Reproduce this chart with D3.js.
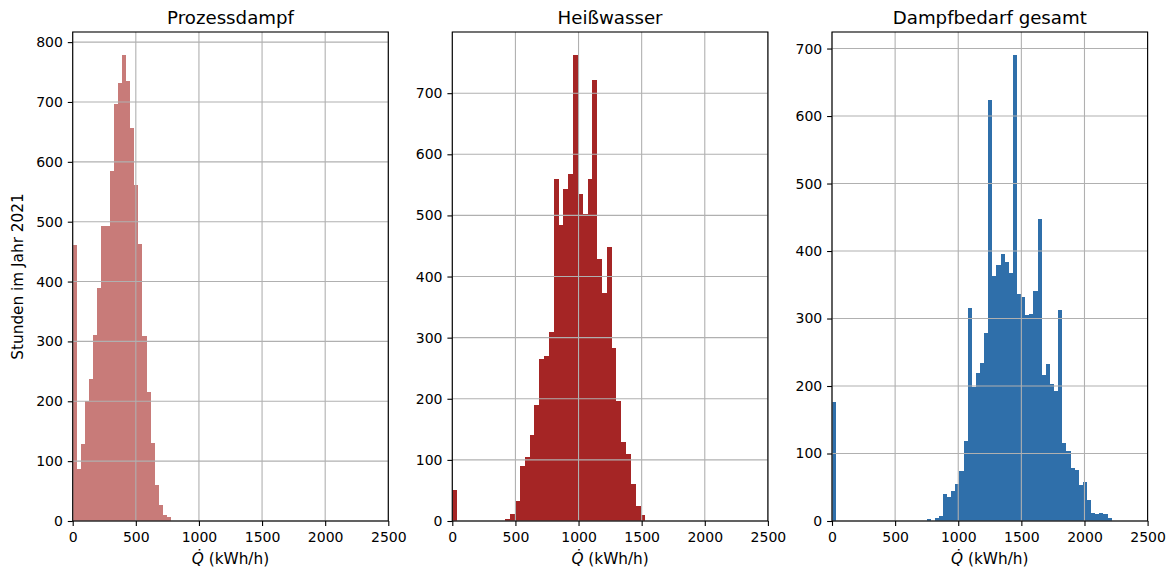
<!DOCTYPE html>
<html>
<head>
<meta charset="utf-8">
<script src="https://cdn.jsdelivr.net/npm/d3@7"></script>
<style>
  html, body { margin: 0; padding: 0; background: #fff; }
  svg { display: block; font-family: "DejaVu Sans", sans-serif; }
</style>
</head>
<body>
<svg id="chart" width="1176" height="576"></svg>
<script>
// ---------------- data ----------------
const titles = ["Prozessdampf", "Heißwasser", "Dampfbedarf gesamt"];
const xTicks = [0, 500, 1000, 1500, 2000, 2500];
const xDomain = [0, 2500];
const yLabel = "Stunden im Jahr 2021";

// Prozessdampf: 24 equal bins between 0 and 780 kWh/h
const prozessRange = [0, 780];
const prozessCounts = [461, 87, 128, 200, 238, 310, 390, 493, 493, 585, 696, 731,
                       778, 735, 657, 561, 462, 309, 216, 131, 60, 26, 10, 6];
const prozessTicks = [0, 100, 200, 300, 400, 500, 600, 700, 800];

// Heißwasser: 40 equal bins between 0 and 1530 kWh/h
const heissRange = [0, 1530];
const heissCounts = [51, 0, 0, 0, 0, 0, 0, 0, 0, 0,
                     0, 4, 12, 33, 90, 104, 140, 190, 265, 270,
                     309, 560, 484, 543, 568, 762, 535, 502, 560, 721,
                     429, 373, 448, 283, 196, 129, 110, 60, 25, 10];
const heissTicks = [0, 100, 200, 300, 400, 500, 600, 700];

// Dampfbedarf gesamt: 68 equal bins between 0 and 2215 kWh/h
const gesamtRange = [0, 2215];
const gesamtCounts = [176, 0, 0, 0, 0, 0, 0, 0, 0, 0,
                      0, 0, 0, 0, 0, 0, 0, 0, 0, 0,
                      0, 0, 0, 3, 0, 5, 7, 40, 36, 45,
                      55, 74, 119, 315, 199, 220, 234, 278, 624, 363,
                      380, 395, 384, 368, 690, 336, 332, 305, 306, 341,
                      447, 216, 233, 203, 192, 312, 115, 103, 79, 76,
                      54, 58, 31, 12, 10, 12, 10, 5];
const gesamtTicks = [0, 100, 200, 300, 400, 500, 600, 700];

const colors = ["#c87b79", "#a52525", "#2f6faa"];

// ---------------- layout ----------------
const panelLeft = [72.7, 452.3, 832];
const panelW = 315.6;
const plotTop = 32, plotBottom = 521;
const tickLen = 4.9, tickPad = 4.9;
const fs = 14;
const labelFs = 15.3;
const titleFs = 18.2;

const panels = [
  { title: titles[0], range: prozessRange, counts: prozessCounts, yTicks: prozessTicks, color: colors[0] },
  { title: titles[1], range: heissRange,   counts: heissCounts,   yTicks: heissTicks,   color: colors[1] },
  { title: titles[2], range: gesamtRange,  counts: gesamtCounts,  yTicks: gesamtTicks,  color: colors[2] }
];

const svg = d3.select("#chart");

panels.forEach((p, pi) => {
  const left = panelLeft[pi];
  const x = d3.scaleLinear().domain(xDomain).range([left, left + panelW]);
  const yMax = d3.max(p.counts) * 1.05;
  const y = d3.scaleLinear().domain([0, yMax]).range([plotBottom, plotTop]);

  const n = p.counts.length;
  const bw = (p.range[1] - p.range[0]) / n;
  const bins = p.counts.map((c, i) => ({ x0: p.range[0] + i * bw, x1: p.range[0] + (i + 1) * bw, c }));

  const g = svg.append("g");

  // bars
  g.append("g").attr("shape-rendering", "crispEdges")
    .selectAll("rect").data(bins.filter(b => b.c > 0)).join("rect")
    .attr("x", b => x(b.x0))
    .attr("width", b => x(b.x1) - x(b.x0))
    .attr("y", b => y(b.c))
    .attr("height", b => y(0) - y(b.c))
    .attr("fill", p.color);

  // grid (drawn above bars like matplotlib)
  const grid = g.append("g").attr("stroke", "#b0b0b0").attr("stroke-width", 1.1);
  xTicks.forEach(t => grid.append("line")
    .attr("x1", x(t)).attr("x2", x(t)).attr("y1", plotTop).attr("y2", plotBottom));
  p.yTicks.forEach(t => grid.append("line")
    .attr("x1", left).attr("x2", left + panelW).attr("y1", y(t)).attr("y2", y(t)));

  // axes
  const xAxis = d3.axisBottom(x).tickValues(xTicks).tickFormat(d3.format("d"))
    .tickSize(tickLen).tickPadding(tickPad + 1).tickSizeOuter(0);
  const yAxis = d3.axisLeft(y).tickValues(p.yTicks).tickFormat(d3.format("d"))
    .tickSize(tickLen).tickPadding(tickPad).tickSizeOuter(0);

  const gx = g.append("g").attr("transform", `translate(0,${plotBottom})`).call(xAxis);
  const gy = g.append("g").attr("transform", `translate(${left},0)`).call(yAxis);
  [gx, gy].forEach(a => {
    a.select(".domain").remove();
    a.selectAll(".tick line").attr("stroke", "#000").attr("stroke-width", 1.1);
    a.selectAll(".tick text").attr("fill", "#000").style("font-size", fs + "px")
      .style("font-family", "DejaVu Sans, sans-serif");
  });

  // spines
  g.append("rect")
    .attr("x", left).attr("y", plotTop).attr("width", panelW).attr("height", plotBottom - plotTop)
    .attr("fill", "none").attr("stroke", "#000").attr("stroke-width", 1.1);

  // title
  g.append("text")
    .attr("x", left + panelW / 2).attr("y", 24)
    .attr("text-anchor", "middle").style("font-size", titleFs + "px").attr("fill", "#000")
    .text(p.title);

  // x label: Q-dot (kWh/h)
  const xl = g.append("text")
    .attr("x", left + panelW / 2).attr("y", 564)
    .attr("text-anchor", "middle").style("font-size", labelFs + "px").attr("fill", "#000");
  xl.append("tspan").style("font-style", "italic").text("Q\u0307");
  xl.append("tspan").text(" (kWh/h)");
});

// y label
svg.append("text")
  .attr("transform", `translate(23,${(plotTop + plotBottom) / 2}) rotate(-90)`)
  .attr("text-anchor", "middle").style("font-size", labelFs + "px").attr("fill", "#000")
  .text(yLabel);
</script>
</body>
</html>
